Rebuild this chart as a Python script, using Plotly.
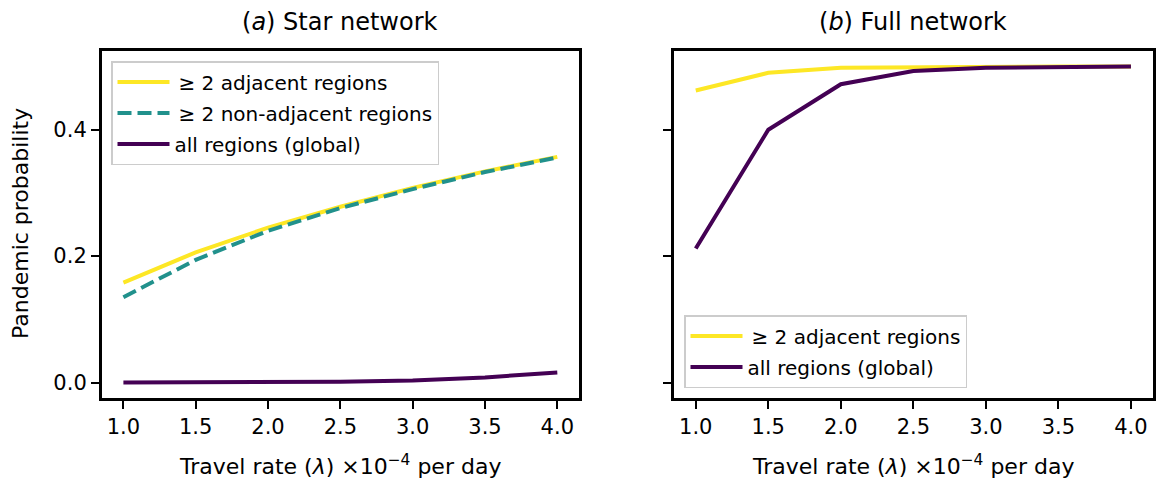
import plotly.graph_objects as go

travel_rate = [1.0, 1.5, 2.0, 2.5, 3.0, 3.5, 4.0]

# (a) Star network
star_adjacent = [0.158, 0.206, 0.245, 0.278, 0.308, 0.334, 0.357]
star_nonadjacent = [0.135, 0.194, 0.240, 0.276, 0.306, 0.333, 0.356]
star_global = [0.0, 0.0, 0.0005, 0.0012, 0.003, 0.008, 0.016]

# (b) Full network
full_adjacent = [0.462, 0.490, 0.498, 0.499, 0.500, 0.500, 0.500]
full_global = [0.212, 0.400, 0.472, 0.493, 0.498, 0.4995, 0.500]

titles = ["(<i>a</i>) Star network", "(<i>b</i>) Full network"]
x_tick_vals = [1.0, 1.5, 2.0, 2.5, 3.0, 3.5, 4.0]
y_tick_vals = [0.0, 0.2, 0.4]

YELLOW = "#fde725"
TEAL = "#21918c"
PURPLE = "#440154"
FONT = "DejaVu Sans"
W, H = 1161, 481

fig = go.Figure()

lbl_adj = "\u2009≥ 2 adjacent regions"
lbl_non = "\u2009≥ 2 non-adjacent regions"
lbl_glob = "all regions (global)"

fig.add_trace(go.Scatter(x=travel_rate, y=star_adjacent, mode="lines", name=lbl_adj,
                         line=dict(color=YELLOW, width=4), xaxis="x", yaxis="y",
                         legend="legend", legendgroup="a1"))
fig.add_trace(go.Scatter(x=travel_rate, y=star_nonadjacent, mode="lines", name=lbl_non,
                         line=dict(color=TEAL, width=4, dash="14px,6px"), xaxis="x", yaxis="y",
                         legend="legend", legendgroup="a2"))
fig.add_trace(go.Scatter(x=travel_rate, y=star_global, mode="lines", name=lbl_glob,
                         line=dict(color=PURPLE, width=4), xaxis="x", yaxis="y",
                         legend="legend", legendgroup="a3"))

fig.add_trace(go.Scatter(x=travel_rate, y=full_adjacent, mode="lines", name=lbl_adj,
                         line=dict(color=YELLOW, width=4), xaxis="x2", yaxis="y2",
                         legend="legend2", legendgroup="b1"))
fig.add_trace(go.Scatter(x=travel_rate, y=full_global, mode="lines", name=lbl_glob,
                         line=dict(color=PURPLE, width=4), xaxis="x2", yaxis="y2",
                         legend="legend2", legendgroup="b2"))

x_dom1 = [101.7 / W, 579.0 / W]
x_dom2 = [674.0 / W, 1152.7 / W]
y_dom = [1 - 398.3 / H, 1 - 50.7 / H]

axis_common = dict(
    showline=True, linecolor="black", linewidth=2.5, mirror=True,
    ticks="outside", ticklen=8, tickwidth=2, tickcolor="black",
    showgrid=False, zeroline=False,
    tickfont=dict(family=FONT, size=21, color="black"),
)

fig.update_layout(
    width=W, height=H,
    margin=dict(l=0, r=0, t=0, b=0),
    paper_bgcolor="white", plot_bgcolor="white",
    font=dict(family=FONT, color="black"),
    showlegend=True,
    xaxis=dict(domain=x_dom1, range=[0.85, 4.15], tickvals=x_tick_vals,
               ticktext=[f"{v:.1f}" for v in x_tick_vals], anchor="y", **axis_common),
    yaxis=dict(domain=y_dom, range=[-0.025, 0.525], tickvals=y_tick_vals,
               ticktext=[f"{v:.1f}" for v in y_tick_vals], anchor="x", **axis_common),
    xaxis2=dict(domain=x_dom2, range=[0.85, 4.15], tickvals=x_tick_vals,
                ticktext=[f"{v:.1f}" for v in x_tick_vals], anchor="y2", **axis_common),
    yaxis2=dict(domain=y_dom, range=[-0.025, 0.525], tickvals=y_tick_vals,
                showticklabels=False, anchor="x2", **axis_common),
    legend=dict(x=111 / W, y=1 - 61 / H, xanchor="left", yanchor="top",
                bgcolor="rgba(255,255,255,0.8)", bordercolor="#cccccc", borderwidth=1.5,
                font=dict(family=FONT, size=20, color="black"),
                traceorder="grouped", tracegroupgap=2, itemwidth=52),
    legend2=dict(x=684 / W, y=1 - 388 / H, xanchor="left", yanchor="bottom",
                 bgcolor="rgba(255,255,255,0.8)", bordercolor="#cccccc", borderwidth=1.5,
                 font=dict(family=FONT, size=20, color="black"),
                 traceorder="grouped", tracegroupgap=2, itemwidth=52),
)

centers = [(x_dom1[0] + x_dom1[1]) / 2, (x_dom2[0] + x_dom2[1]) / 2]
for cx, t in zip(centers, titles):
    fig.add_annotation(text=t, x=cx, y=1 - 22 / H, xref="paper", yref="paper",
                       xanchor="center", yanchor="middle", showarrow=False,
                       font=dict(family=FONT, size=24, color="black"))
    fig.add_annotation(text="Travel rate (<i>λ</i>) ×10<sup>−4</sup> per day",
                       x=cx, y=1 - 465 / H, xref="paper", yref="paper",
                       xanchor="center", yanchor="middle", showarrow=False,
                       font=dict(family=FONT, size=22, color="black"))

fig.add_annotation(text="Pandemic probability", x=20 / W, y=1 - 224 / H,
                   xref="paper", yref="paper", xanchor="center", yanchor="middle",
                   textangle=-90, showarrow=False,
                   font=dict(family=FONT, size=22, color="black"))

fig.write_html("out.html", config={"displayModeBar": False},
               post_script="document.body.style.margin='0';")
